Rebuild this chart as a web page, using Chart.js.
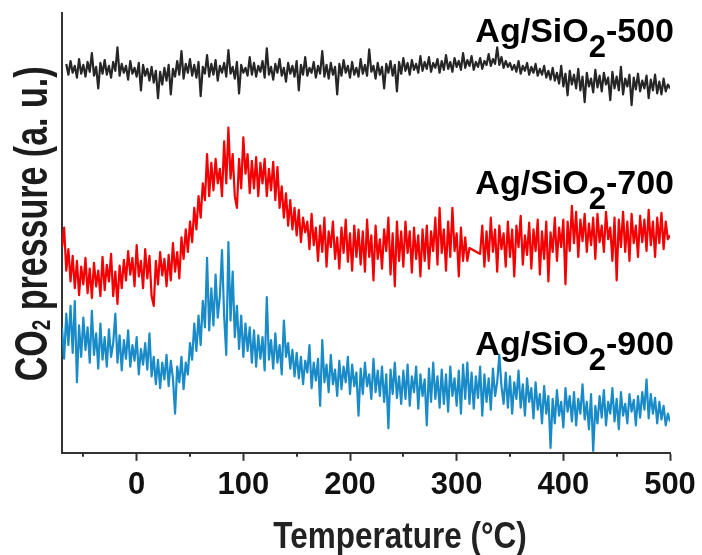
<!DOCTYPE html>
<html><head><meta charset="utf-8">
<script src="https://cdn.jsdelivr.net/npm/chart.js@4"></script>
<style>html,body{margin:0;padding:0;background:#fff}#wrap{width:702px;height:555px;position:relative}</style>
</head><body><div id="wrap"><canvas id="c" width="702" height="555"></canvas></div>
<script>
// Temperature grid (°C)
const temps = [-70,-68,-66,-64,-62,-60,-58,-56,-54,-52,-50,-48,-46,-44,-42,-40,-38,-36,-34,-32,
-30,-28,-26,-24,-22,-20,-18,-16,-14,-12,-10,-8,-6,-4,-2,0,2,4,6,8,
10,12,14,16,18,20,22,24,26,28,30,32,34,36,38,40,42,44,46,48,
50,52,54,56,58,60,62,64,66,68,70,72,74,76,78,80,82,84,86,88,
90,92,94,96,98,100,102,104,106,108,110,112,114,116,118,120,122,124,126,128,
130,132,134,136,138,140,142,144,146,148,150,152,154,156,158,160,162,164,166,168,
170,172,174,176,178,180,182,184,186,188,190,192,194,196,198,200,202,204,206,208,
210,212,214,216,218,220,222,224,226,228,230,232,234,236,238,240,242,244,246,248,
250,252,254,256,258,260,262,264,266,268,270,272,274,276,278,280,282,284,286,288,
290,292,294,296,298,300,302,304,306,308,310,312,314,316,318,320,322,324,326,328,
330,332,334,336,338,340,342,344,346,348,350,352,354,356,358,360,362,364,366,368,
370,372,374,376,378,380,382,384,386,388,390,392,394,396,398,400,402,404,406,408,
410,412,414,416,418,420,422,424,426,428,430,432,434,436,438,440,442,444,446,448,
450,452,454,456,458,460,462,464,466,468,470,472,474,476,478,480,482,484,486,488,
490,492,494,496,498,500];

// CO2 pressure (a. u., offset traces)
const ag500 = [null,null,397,386,400,388,395,383,402,387, 396,384,399,389,408,385,394,372,398,387,
401,386,395,383,399,390,414,385,397,388, 395,381,400,387,393,384,398,370,396,385,
392,380,394,378,390,362,389,376,393,380, 396,366,392,384,400,386,410,382,397,388,
402,385,396,383,399,364,394,387,406,384, 397,386,401,380,395,388,398,384,411,387,
394,382,399,367,396,388,393,385,404,386, 398,384,395,389,400,383,413,386,394,381,
397,388,402,385,393,379,398,387,395,384, 400,370,396,386,404,385,393,388,399,383,
395,387,410,384,396,382,398,386,394,366, 397,385,401,388,395,383,399,386,393,384,
402,387,396,385,412,389,395,382,398,386, 394,372,397,388,400,385,396,369,399,387,
403,390,398,386,401,391,397,388,405,390, 399,392,404,389,398,393,402,388,400,391,
406,392,399,389,403,394,400,391,408,393, 401,395,405,391,399,394,403,392,400,396,
407,395,402,397,414,396,404,393,400,394, 398,391,396,389,400,387,395,390,398,386,
394,388,397,385,392,386,395,383,390,381, 393,380,388,377,395,374,387,365,390,376,
386,372,392,370,384,358,388,374,382,368, 391,373,385,369,388,376,383,360,389,372,
384,370,394,366,382,374,386,355,383,371, 387,369,380,372,385,362,381,370,386,367,
379,366,382,369,376,372];

const ag700 = [210,230,186,208,175,201,168,196,161,190, 172,199,163,188,158,194,170,186,160,200,
166,192,175,203,160,185,152,191,168,197, 176,206,182,199,170,212,180,196,168,208,
178,201,160,150,196,172,205,181,198,170, 202,176,214,185,205,178,220,198,228,205,
236,215,250,228,262,240,275,258,305,262, 296,268,300,275,290,262,318,275,332,280,
305,262,250,300,270,322,285,305,265,298, 270,302,262,296,275,300,262,290,268,297,
258,292,250,272,240,265,232,258,228,250, 222,248,215,240,225,236,208,244,212,230,
196,232,205,240,190,226,210,236,198,220, 188,230,204,238,195,224,186,232,200,228,
192,226,185,238,200,222,176,232,198,218, 188,228,206,240,182,224,170,236,196,226,
190,236,204,226,184,230,198,222,180,228, 196,232,188,226,206,240,192,250,204,228,
186,236,200,250,206,224,180,230,196,220, 196,209,null,null,null,null,203,232,190,226,
196,240,205,228,185,232,208,224,190,236, 200,228,180,232,210,242,192,222,202,235,
188,228,206,238,182,226,198,236,175,225, 205,240,196,230,210,238,172,236,206,252,
214,246,200,238,216,244,205,234,212,240, 198,244,215,232,205,246,218,230,196,240,
176,238,210,246,205,236,196,244,214,232, 200,242,215,238,206,248,212,236,200,240,
214,245,208,236,218,222];

const ag900 = [128,96,142,110,150,102,155,72,130,98, 138,105,128,92,145,100,122,86,132,95,
118,88,126,98,112,142,92,120,84,115, 96,125,88,110,94,118,80,106,90,112,
85,122,78,98,70,95,66,92,75,100, 68,94,76,40,88,72,98,65,92,80,
112,95,132,104,140,110,155,128,199,125, 168,130,182,138,160,207,140,100,215,135,
185,118,150,106,140,98,132,104,128,92, 125,88,120,96,118,84,159,95,115,86,
122,92,110,80,135,98,112,86,105,78, 102,76,98,70,94,82,110,66,92,74,
96,48,115,72,90,62,100,70,85,58, 94,65,88,72,98,60,90,68,82,38,
86,60,92,68,80,55,96,62,84,58, 88,52,80,25,85,60,92,56,78,50,
84,55,90,48,78,62,88,45,80,58, 75,28,86,52,92,55,78,46,85,50,
80,42,88,58,76,48,84,40,90,55, 92,50,82,45,78,56,88,38,80,52,
76,44,86,58,72,100,68,50,82,46, 78,40,72,55,84,46,70,38,76,52,
66,35,72,44,60,30,68,40,58,5, 55,30,64,38,52,26,66,42,58,32,
62,28,55,40,70,34,52,24,60,2, 48,30,58,36,64,28,52,40,66,32,
55,24,62,38,50,30,60,42,54,28, 58,36,62,44,75,35,60,40,56,30,
52,34,48,28,40,32];

const seriesNames = ['Ag/SiO2-500','Ag/SiO2-700','Ag/SiO2-900'];
const labelParts = [['Ag/SiO','2','-500'],['Ag/SiO','2','-700'],['Ag/SiO','2','-900']];
const labelLevels = [419, 264, 100];   // label baselines in y-axis units
const majorTicks = [0,100,200,300,400,500];
const minorTicks = [-50,50,150,250,350,450];
const xTitle = 'Temperature (°C)';
const yTitleParts = ['CO','2',' pressure (a. u.)'];

const FONT = '"Liberation Sans", Arial, Helvetica, sans-serif';
const colors = ['#262626','#f40000','#1a8bc9'];

const toPts = arr => temps.map((t,i)=>({x:t, y:arr[i]}));

const annot = {
  id:'annot',
  afterDraw(chart){
    const ctx = chart.ctx, xs = chart.scales.x, ys = chart.scales.y, ca = chart.chartArea;
    ctx.save();
    // minor ticks
    ctx.strokeStyle = '#333'; ctx.lineWidth = 2;
    minorTicks.forEach(v=>{
      const px = Math.round(xs.getPixelForValue(v));
      ctx.beginPath(); ctx.moveTo(px, ca.bottom); ctx.lineTo(px, ca.bottom+4); ctx.stroke();
    });
    // series labels
    const main = `bold 34px ${FONT}`, sub = `bold 31px ${FONT}`;
    ctx.fillStyle = '#000'; ctx.textAlign = 'left'; ctx.textBaseline = 'alphabetic';
    labelParts.forEach((p,i)=>{
      const yb = ys.getPixelForValue(labelLevels[i]);
      const xr = xs.getPixelForValue(500) + 4;
      ctx.font = main; const w1 = ctx.measureText(p[0]).width, w3 = ctx.measureText(p[2]).width;
      ctx.font = sub; const w2 = ctx.measureText(p[1]).width;
      const x0 = xr - w1 - w2 - w3;
      ctx.font = main; ctx.fillText(p[0], x0, yb);
      ctx.font = sub; ctx.fillText(p[1], x0 + w1, yb + 15);
      ctx.font = main; ctx.fillText(p[2], x0 + w1 + w2, yb);
    });
    // y title
    ctx.save();
    ctx.fillStyle = '#1c1c1c';
    ctx.translate(47, (ca.top + ca.bottom)/2 - 9);
    ctx.rotate(-Math.PI/2);
    ctx.scale(1, 1.36);
    const ym = `bold 34px ${FONT}`, ys2 = `bold 19px ${FONT}`;
    ctx.font = ym; const a = ctx.measureText(yTitleParts[0]).width, c = ctx.measureText(yTitleParts[2]).width;
    ctx.font = ys2; const b = ctx.measureText(yTitleParts[1]).width;
    const start = -(a+b+c)/2;
    ctx.font = ym; ctx.fillText(yTitleParts[0], start, 0);
    ctx.font = ys2; ctx.fillText(yTitleParts[1], start + a, 2);
    ctx.font = ym; ctx.fillText(yTitleParts[2], start + a + b, 0);
    ctx.restore();
    // x title
    ctx.save();
    ctx.fillStyle = '#222';
    ctx.translate(400, 548);
    ctx.scale(0.875, 1);
    ctx.font = `bold 36px ${FONT}`; ctx.textAlign = 'center';
    ctx.fillText(xTitle, 0, 0);
    ctx.restore();
    ctx.restore();
  }
};

const ds = (i, arr, span) => ({
  label: seriesNames[i], data: toPts(arr), borderColor: colors[i], backgroundColor: colors[i],
  borderWidth: 2.2, pointRadius: 0, tension: 0, spanGaps: span, borderJoinStyle: 'round', fill: false
});

new Chart(document.getElementById('c'), {
  type: 'line',
  data: { datasets: [ ds(0, ag500, false), ds(1, ag700, true), ds(2, ag900, false) ] },
  options: {
    responsive: false, animation: false, devicePixelRatio: 1,
    layout: { padding: { left: 54, top: 13, right: 32, bottom: 45 } },
    plugins: { legend: { display: false }, tooltip: { enabled: false } },
    scales: {
      x: {
        type: 'linear', min: -70, max: 500,
        afterBuildTicks: s => { s.ticks = majorTicks.map(v => ({ value: v })); },
        ticks: { font: { size: 31, weight: 'bold', family: FONT }, color: '#111', padding: 6, maxRotation: 0, autoSkip: false },
        grid: { display: true, drawOnChartArea: false, drawTicks: true, tickLength: 8, tickWidth: 2, tickColor: '#333' },
        border: { display: true, color: '#333', width: 2 }
      },
      y: {
        min: 0, max: 449,
        ticks: { display: false },
        grid: { display: false },
        border: { display: true, color: '#333', width: 2 }
      }
    }
  },
  plugins: [annot]
});
</script>
</body></html>
